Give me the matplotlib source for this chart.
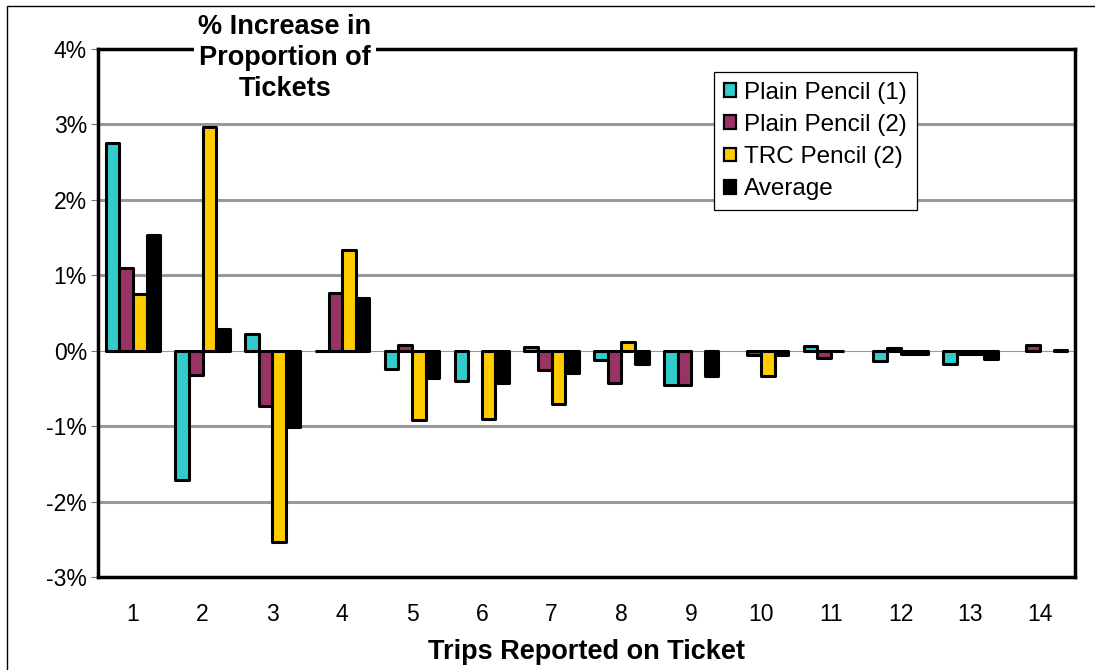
import numpy as np
import matplotlib.pyplot as plt
from matplotlib.patches import Rectangle

plt.rcParams['font.family'] = ['Liberation Sans', 'DejaVu Sans']

# Trips reported on ticket
trips = np.arange(1, 15)

# % increase in proportion of tickets (NaN = not drawn)
plain1 = [2.75, -1.71, 0.22, 0.0, -0.24, -0.40, 0.05, -0.12, -0.46, np.nan, 0.06, -0.13, -0.18, np.nan]
plain2 = [1.10, -0.32, -0.73, 0.76, 0.08, np.nan, -0.26, -0.43, -0.46, -0.06, -0.10, 0.03, -0.04, 0.07]
trc2 = [0.75, 2.96, -2.53, 1.33, -0.92, -0.90, -0.70, 0.11, np.nan, -0.33, 0.0, -0.04, -0.04, np.nan]
average = [1.54, 0.29, -1.01, 0.70, -0.36, -0.43, -0.30, -0.17, -0.33, -0.06, np.nan, -0.04, -0.11, 0.01]

series = [plain1, plain2, trc2, average]
labels = ["Plain Pencil (1)", "Plain Pencil (2)", "TRC Pencil (2)", "Average"]
colors = ["#33CCCC", "#993366", "#FFCC00", "#000000"]

yticks = [-3, -2, -1, 0, 1, 2, 3, 4]

W, H = 1095, 670
fig = plt.figure(figsize=(W / 100, H / 100), dpi=100)
ax = fig.add_axes([98 / W, 1 - 577 / H, (1075 - 98) / W, (577 - 49) / H])

# horizontal gridlines, thin one at zero
for v in yticks[1:-1]:
    ax.axhline(v, color="#999999", lw=0.8 if v == 0 else 2.2, zorder=1)

w = 0.195
for i, (vals, lab, col) in enumerate(zip(series, labels, colors)):
    ax.bar(trips + (i - 1.5) * w, vals, width=w, color=col, edgecolor="black",
           linewidth=2.2, joinstyle="round", label=lab, zorder=2)

ax.set_xlim(0.5, 14.5)
ax.set_ylim(-3, 4)
ax.set_yticks(yticks)
ax.set_yticklabels([f"{v}%" for v in yticks])
ax.set_xticks(trips)
ax.set_xticklabels([str(t) for t in trips])
ax.tick_params(axis="y", length=5, width=0.8, color="#777777", pad=3, labelsize=16.5)
ax.tick_params(axis="x", length=0, pad=19, labelsize=16.5)
for s in ax.spines.values():
    s.set_linewidth(2.5)

leg = ax.legend(loc="upper left", bbox_to_anchor=(714 / W, 1 - 72 / H),
                bbox_transform=fig.transFigure, fontsize=17.5, frameon=True,
                fancybox=False, framealpha=1, edgecolor="black",
                handlelength=0.5, handleheight=0.5, handletextpad=0.35,
                labelspacing=0.42, borderpad=0.4, borderaxespad=0)
leg.get_frame().set_linewidth(0.9)
leg.set_zorder(5)
for h in leg.legend_handles:
    h.set_linewidth(1.6)

fig.text(285 / W, 1 - 58 / H, "% Increase in\nProportion of\nTickets",
         ha="center", va="center", multialignment="center", fontsize=19.5,
         fontweight="bold", linespacing=1.25,
         bbox=dict(facecolor="white", edgecolor="none", pad=3))

fig.text(586 / W, 1 - 652 / H, "Trips Reported on Ticket", ha="center",
         va="center", fontsize=19.5, fontweight="bold")

# outer chart border
fig.add_artist(Rectangle((7 / W, -0.1), 1.2, 1 - 6 / H + 0.1, fill=False,
                         edgecolor="black", lw=1, transform=fig.transFigure))

fig.savefig("out.png", dpi=100)
